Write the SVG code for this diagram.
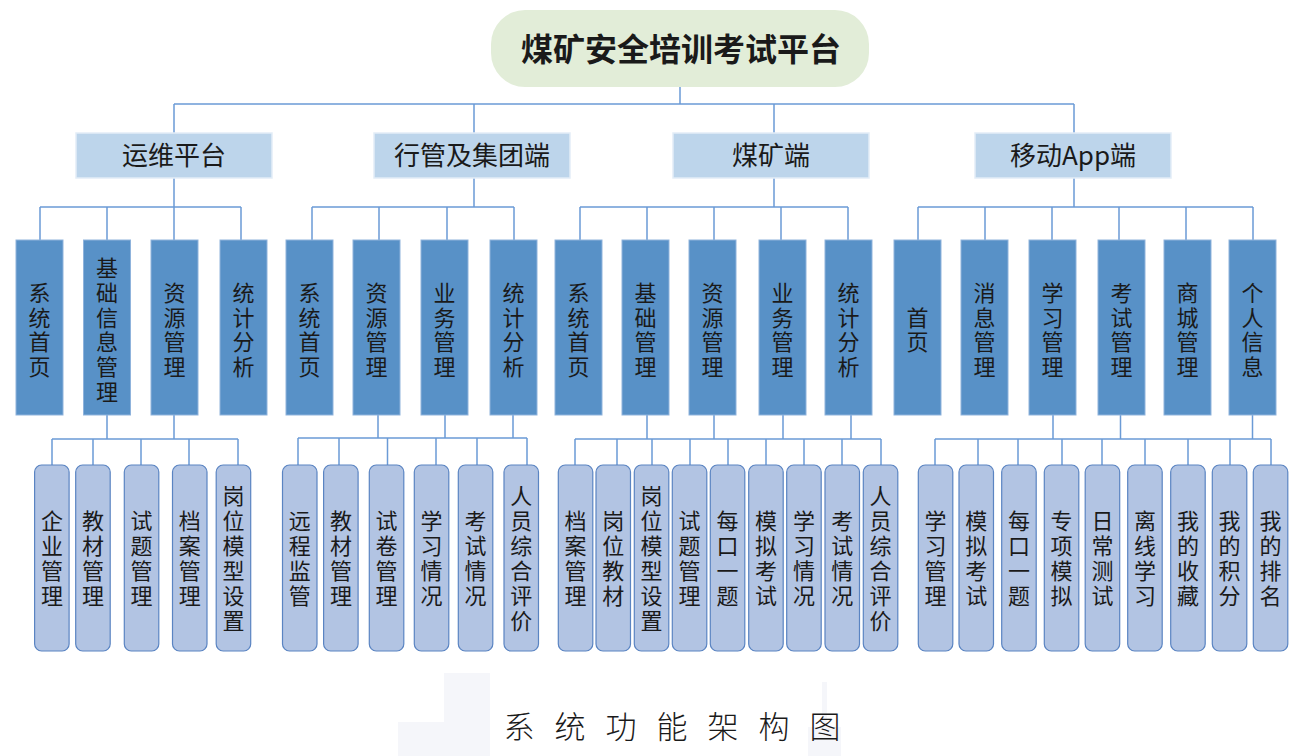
<svg xmlns="http://www.w3.org/2000/svg" width="1301" height="756" viewBox="0 0 1301 756">
<style>
.c{fill:none;stroke:#6b9bd6;stroke-width:1.5}
.t{font-family:"Noto Sans CJK SC","Noto Sans",sans-serif;fill:#1a1a1a;text-anchor:middle}
.v{writing-mode:vertical-rl;text-orientation:upright}
.v3{letter-spacing:2.7px}
.v4{letter-spacing:3px}
.root{fill:#e2edd8}
.l2{fill:#bdd5eb;stroke:#e3edf7;stroke-width:1.5}
.l3{fill:#5891c7;stroke:#8fb3dc;stroke-width:1}
.l4{fill:#b2c4e3;stroke:#5a84c2;stroke-width:1.2}
.f1{font-size:32px;font-weight:700}
.f2{font-size:26px}
.f3{font-size:22px}
.wm{fill:#f5f6fa}
</style>
<rect width="1301" height="756" fill="#ffffff"/>
<g id="watermark">
<rect class="wm" x="444" y="673" width="46" height="83"/>
<rect class="wm" x="398" y="722" width="46" height="34"/>
<rect class="wm" x="822" y="682" width="5" height="74"/>
<rect class="wm" x="808" y="727" width="33" height="29"/>
</g>
<g id="connectors">
<path class="c" d="M680 87V104M174 104H1074M174 104V133M474 104V133M774 104V133M1074 104V133"/>
<path class="c" d="M174 178V207M40 207H241M40 207V240M107 207V240M174 207V240M241 207V240"/>
<path class="c" d="M474 178V207M312 207H514M312 207V240M379 207V240M447 207V240M514 207V240"/>
<path class="c" d="M774 178V207M580 207H848M580 207V240M647 207V240M714 207V240M781 207V240M848 207V240"/>
<path class="c" d="M1074 178V207M918 207H1253M918 207V240M985 207V240M1052 207V240M1119 207V240M1186 207V240M1253 207V240"/>
<path class="c" d="M107 415V439M174 415V439M52 439H238M52 439V465M93 439V465M141 439V465M189 439V465M238 439V465"/>
<path class="c" d="M378 415V438M445 415V438M513 415V438M298 438H527M298 438V465M339 438V465M387.5 438V465M436 438V465M477 438V465M527 438V465"/>
<path class="c" d="M647 415V439M714 415V439M783 415V439M851 415V439M575 439H881M575 439V465M617 439V465M652 439V465M690 439V465M728 439V465M766 439V465M804 439V465M842 439V465M881 439V465"/>
<path class="c" d="M1053 415V439M1120.5 415V439M1252.5 415V439M935 439H1271M935 439V465M978 439V465M1018 439V465M1062 439V465M1102 439V465M1145 439V465M1188 439V465M1230 439V465M1271 439V465"/>
</g>
<g id="root">
<rect class="root" x="491" y="10" width="378" height="77" rx="34"/>
<text class="t f1" x="681" y="61">煤矿安全培训考试平台</text>
</g>
<g id="p1"><rect class="l2" x="76" y="133" width="196" height="45"/><text class="t f2" x="174" y="165">运维平台</text></g>
<g id="p2"><rect class="l2" x="374" y="133" width="196" height="45"/><text class="t f2" x="472" y="165">行管及集团端</text></g>
<g id="p3"><rect class="l2" x="673" y="133" width="196" height="45"/><text class="t f2" x="771" y="165">煤矿端</text></g>
<g id="p4"><rect class="l2" x="975" y="133" width="196" height="45"/><text class="t f2" x="1073" y="165">移动App端</text></g>

<g id="m1"><rect class="l3" x="16" y="240" width="47" height="175"/><text class="t f3 v v3" x="39.5" y="331">系统首页</text></g>
<g id="m2"><rect class="l3" x="83.5" y="240" width="47" height="175"/><text class="t f3 v v3" x="107" y="331">基础信息管理</text></g>
<g id="m3"><rect class="l3" x="151" y="240" width="47" height="175"/><text class="t f3 v v3" x="174.5" y="331">资源管理</text></g>
<g id="m4"><rect class="l3" x="220" y="240" width="47" height="175"/><text class="t f3 v v3" x="243.5" y="331">统计分析</text></g>
<g id="m5"><rect class="l3" x="286" y="240" width="47" height="175"/><text class="t f3 v v3" x="309.5" y="331">系统首页</text></g>
<g id="m6"><rect class="l3" x="353" y="240" width="47" height="175"/><text class="t f3 v v3" x="376.5" y="331">资源管理</text></g>
<g id="m7"><rect class="l3" x="421" y="240" width="47" height="175"/><text class="t f3 v v3" x="444.5" y="331">业务管理</text></g>
<g id="m8"><rect class="l3" x="490" y="240" width="47" height="175"/><text class="t f3 v v3" x="513.5" y="331">统计分析</text></g>
<g id="m9"><rect class="l3" x="555" y="240" width="47" height="175"/><text class="t f3 v v3" x="578.5" y="331">系统首页</text></g>
<g id="m10"><rect class="l3" x="622" y="240" width="47" height="175"/><text class="t f3 v v3" x="645.5" y="331">基础管理</text></g>
<g id="m11"><rect class="l3" x="689" y="240" width="47" height="175"/><text class="t f3 v v3" x="712.5" y="331">资源管理</text></g>
<g id="m12"><rect class="l3" x="759" y="240" width="47" height="175"/><text class="t f3 v v3" x="782.5" y="331">业务管理</text></g>
<g id="m13"><rect class="l3" x="825" y="240" width="47" height="175"/><text class="t f3 v v3" x="848.5" y="331">统计分析</text></g>
<g id="m14"><rect class="l3" x="894" y="240" width="47" height="175"/><text class="t f3 v v3" x="917.5" y="331">首页</text></g>
<g id="m15"><rect class="l3" x="961" y="240" width="47" height="175"/><text class="t f3 v v3" x="984.5" y="331">消息管理</text></g>
<g id="m16"><rect class="l3" x="1029" y="240" width="47" height="175"/><text class="t f3 v v3" x="1052.5" y="331">学习管理</text></g>
<g id="m17"><rect class="l3" x="1098" y="240" width="47" height="175"/><text class="t f3 v v3" x="1121.5" y="331">考试管理</text></g>
<g id="m18"><rect class="l3" x="1164" y="240" width="47" height="175"/><text class="t f3 v v3" x="1187.5" y="331">商城管理</text></g>
<g id="m19"><rect class="l3" x="1229" y="240" width="47" height="175"/><text class="t f3 v v3" x="1252.5" y="331">个人信息</text></g>

<g id="s1"><rect class="l4" x="34.6" y="465" width="34.5" height="186" rx="7"/><text class="t f3 v v4" x="51.9" y="559.5">企业管理</text></g>
<g id="s2"><rect class="l4" x="75.7" y="465" width="34.5" height="186" rx="7"/><text class="t f3 v v4" x="93" y="559.5">教材管理</text></g>
<g id="s3"><rect class="l4" x="124.3" y="465" width="34.5" height="186" rx="7"/><text class="t f3 v v4" x="141.6" y="559.5">试题管理</text></g>
<g id="s4"><rect class="l4" x="172.5" y="465" width="34.5" height="186" rx="7"/><text class="t f3 v v4" x="189.8" y="559.5">档案管理</text></g>
<g id="s5"><rect class="l4" x="216.2" y="465" width="34.5" height="186" rx="7"/><text class="t f3 v v4" x="233.5" y="559.5">岗位模型设置</text></g>

<g id="s6"><rect class="l4" x="282.5" y="465" width="34.5" height="186" rx="7"/><text class="t f3 v v4" x="299.8" y="559.5">远程监管</text></g>
<g id="s7"><rect class="l4" x="323.6" y="465" width="34.5" height="186" rx="7"/><text class="t f3 v v4" x="340.9" y="559.5">教材管理</text></g>
<g id="s8"><rect class="l4" x="369.3" y="465" width="34.5" height="186" rx="7"/><text class="t f3 v v4" x="386.6" y="559.5">试卷管理</text></g>
<g id="s9"><rect class="l4" x="414.3" y="465" width="34.5" height="186" rx="7"/><text class="t f3 v v4" x="431.6" y="559.5">学习情况</text></g>
<g id="s10"><rect class="l4" x="458.3" y="465" width="34.5" height="186" rx="7"/><text class="t f3 v v4" x="475.6" y="559.5">考试情况</text></g>
<g id="s11"><rect class="l4" x="504" y="465" width="34.5" height="186" rx="7"/><text class="t f3 v v4" x="521.3" y="559.5">人员综合评价</text></g>

<g id="s12"><rect class="l4" x="558.3" y="465" width="34.5" height="186" rx="7"/><text class="t f3 v v4" x="575.6" y="559.5">档案管理</text></g>
<g id="s13"><rect class="l4" x="596" y="465" width="34.5" height="186" rx="7"/><text class="t f3 v v4" x="613.3" y="559.5">岗位教材</text></g>
<g id="s14"><rect class="l4" x="634.3" y="465" width="34.5" height="186" rx="7"/><text class="t f3 v v4" x="651.6" y="559.5">岗位模型设置</text></g>
<g id="s15"><rect class="l4" x="672.3" y="465" width="34.5" height="186" rx="7"/><text class="t f3 v v4" x="689.6" y="559.5">试题管理</text></g>
<g id="s16"><rect class="l4" x="710.3" y="465" width="34.5" height="186" rx="7"/><text class="t f3 v v4" x="727.6" y="559.5">每口一题</text></g>
<g id="s17"><rect class="l4" x="748.7" y="465" width="34.5" height="186" rx="7"/><text class="t f3 v v4" x="766" y="559.5">模拟考试</text></g>
<g id="s18"><rect class="l4" x="786.7" y="465" width="34.5" height="186" rx="7"/><text class="t f3 v v4" x="804" y="559.5">学习情况</text></g>
<g id="s19"><rect class="l4" x="825" y="465" width="34.5" height="186" rx="7"/><text class="t f3 v v4" x="842.3" y="559.5">考试情况</text></g>
<g id="s20"><rect class="l4" x="863.3" y="465" width="34.5" height="186" rx="7"/><text class="t f3 v v4" x="880.6" y="559.5">人员综合评价</text></g>

<g id="s21"><rect class="l4" x="918.3" y="465" width="34.5" height="186" rx="7"/><text class="t f3 v v4" x="935.6" y="559.5">学习管理</text></g>
<g id="s22"><rect class="l4" x="959" y="465" width="34.5" height="186" rx="7"/><text class="t f3 v v4" x="976.3" y="559.5">模拟考试</text></g>
<g id="s23"><rect class="l4" x="1001.7" y="465" width="34.5" height="186" rx="7"/><text class="t f3 v v4" x="1019" y="559.5">每口一题</text></g>
<g id="s24"><rect class="l4" x="1044.3" y="465" width="34.5" height="186" rx="7"/><text class="t f3 v v4" x="1061.6" y="559.5">专项模拟</text></g>
<g id="s25"><rect class="l4" x="1085.2" y="465" width="34.5" height="186" rx="7"/><text class="t f3 v v4" x="1102.5" y="559.5">日常测试</text></g>
<g id="s26"><rect class="l4" x="1127.7" y="465" width="34.5" height="186" rx="7"/><text class="t f3 v v4" x="1145" y="559.5">离线学习</text></g>
<g id="s27"><rect class="l4" x="1170.7" y="465" width="34.5" height="186" rx="7"/><text class="t f3 v v4" x="1188" y="559.5">我的收藏</text></g>
<g id="s28"><rect class="l4" x="1212.3" y="465" width="34.5" height="186" rx="7"/><text class="t f3 v v4" x="1229.6" y="559.5">我的积分</text></g>
<g id="s29"><rect class="l4" x="1253.3" y="465" width="34.5" height="186" rx="7"/><text class="t f3 v v4" x="1270.6" y="559.5">我的排名</text></g>

<g id="caption"><text class="t" x="682" y="738" style="font-size:31px;letter-spacing:20px;font-weight:300">系统功能架构图</text></g>
</svg>
